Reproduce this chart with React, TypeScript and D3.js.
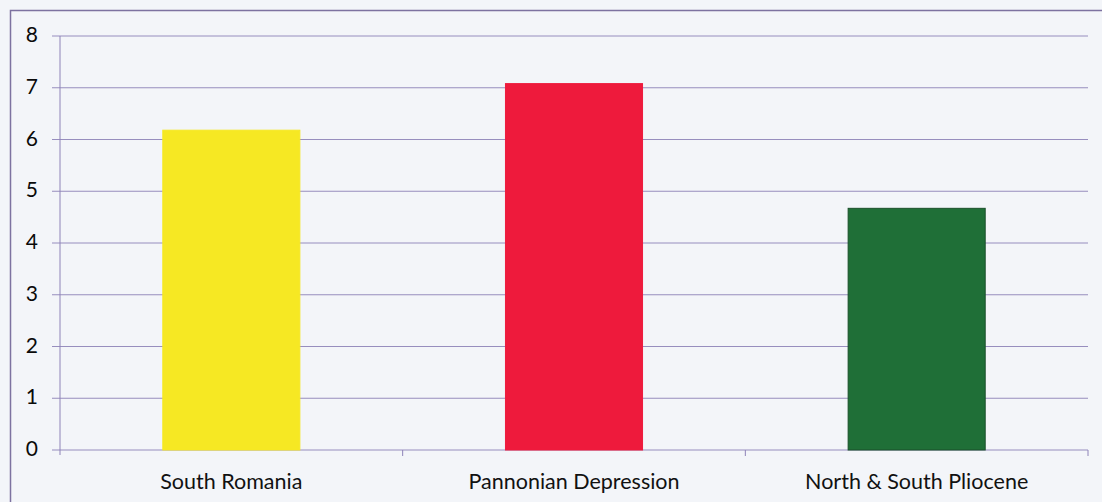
import React from "react";
import * as d3 from "d3";

// Chart data
const categories: string[] = ["South Romania", "Pannonian Depression", "North & South Pliocene"];
const values: number[] = [6.18, 7.08, 4.67];
const barColors: string[] = ["#f6e823", "#ee1a3c", "#1f6f37"];
const barStrokes: string[] = ["#f6e823", "#ee1a3c", "#1a4f2a"];
const yTicks: number[] = [0, 1, 2, 3, 4, 5, 6, 7, 8];

const W = 1102;
const H = 502;
const margin = { left: 60, right: 14, top: 36, bottom: 52 };

export default function App() {
  const x = d3
    .scaleBand<string>()
    .domain(categories)
    .range([margin.left, W - margin.right])
    .paddingInner(0)
    .paddingOuter(0);
  const y = d3.scaleLinear().domain([0, 8]).range([H - margin.bottom, margin.top]);
  const barW = x.bandwidth() * 0.4;
  const gridColor = "#8e83b8";
  const x0 = margin.left;
  const x1 = W - margin.right;

  return (
    <div style={{ position: "fixed", left: 0, top: 0, width: W, height: H, background: "#f3f5f9" }}>
      <svg width={W} height={H} style={{ display: "block" }} fontFamily="Lato, 'Open Sans', sans-serif">
        <rect x={0} y={0} width={W} height={H} fill="#f3f5f9" />
        {/* chart frame */}
        <rect x={10.5} y={10.5} width={W + 20} height={H + 20} fill="none" stroke="#7d72a0" strokeWidth={1.5} />
        {/* horizontal gridlines with left stubs */}
        {yTicks.map((t) => (
          <line key={"g" + t} x1={x0 - 8} x2={x1} y1={y(t)} y2={y(t)} stroke={gridColor} strokeWidth={1} opacity={0.9} />
        ))}
        {/* value axis */}
        <line x1={x0} x2={x0} y1={y(8)} y2={y(0) + 5} stroke={gridColor} strokeWidth={1} />
        {/* category ticks */}
        {categories.map((c) => (
          <line key={"t" + c} x1={(x(c) as number) + x.bandwidth()} x2={(x(c) as number) + x.bandwidth()} y1={y(0)} y2={y(0) + 6} stroke={gridColor} strokeWidth={1} />
        ))}
        {/* bars */}
        {categories.map((c, i) => {
          const cx = (x(c) as number) + x.bandwidth() / 2;
          return (
            <rect
              key={"b" + c}
              x={cx - barW / 2}
              y={y(values[i])}
              width={barW}
              height={y(0) - y(values[i])}
              fill={barColors[i]}
              stroke={barStrokes[i]}
              strokeWidth={1}
            />
          );
        })}
        {/* value tick labels */}
        {yTicks.map((t) => (
          <text key={"l" + t} x={38} y={y(t) - 1.5} dy="0.36em" textAnchor="end" fontSize={21} fill="#0a0a0a">
            {t}
          </text>
        ))}
        {/* category labels */}
        {categories.map((c) => (
          <text key={"c" + c} x={(x(c) as number) + x.bandwidth() / 2} y={489} textAnchor="middle" fontSize={21.5} fill="#111">
            {c}
          </text>
        ))}
      </svg>
    </div>
  );
}
